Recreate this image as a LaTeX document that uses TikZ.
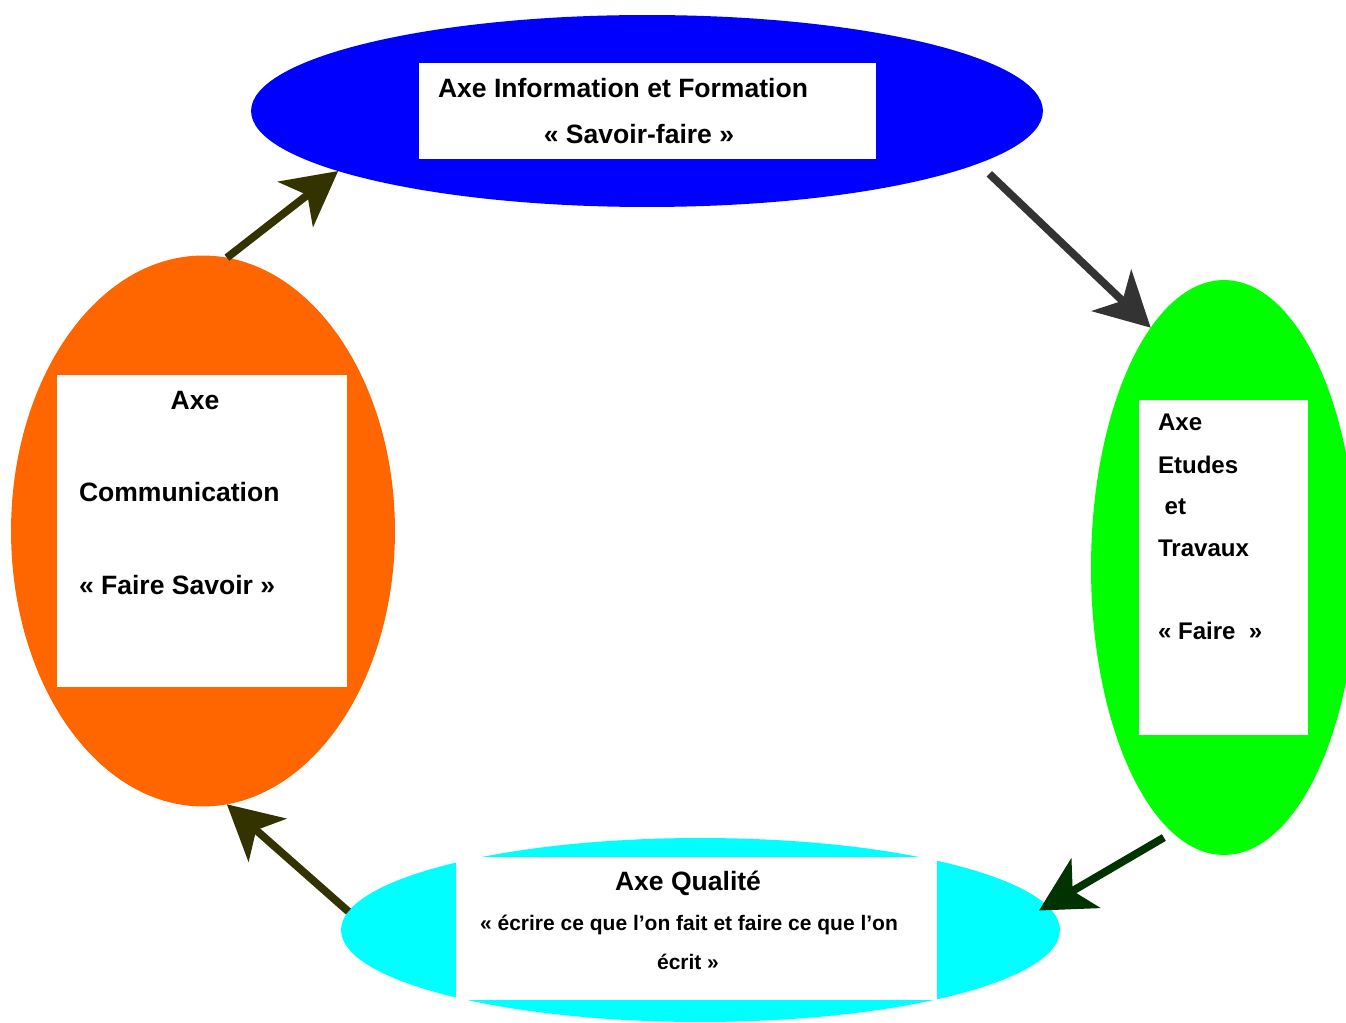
\documentclass[tikz,border=0pt]{standalone}
\usepackage{fontspec}
\setmainfont{Liberation Sans}
\usetikzlibrary{shapes.geometric,arrows.meta}
\definecolor{cblue}{HTML}{0000FF}
\definecolor{cgreen}{HTML}{00FF00}
\definecolor{corange}{HTML}{FF6600}
\definecolor{ccyan}{HTML}{00FFFF}
\definecolor{olivearrow}{HTML}{333300}
\definecolor{grayarrow}{HTML}{333333}
\definecolor{greenarrow}{HTML}{003300}
\tikzset{
  axe/.style={ellipse, draw=none, inner sep=0pt, outer sep=0pt},
  whitebox/.style={rectangle, fill=white, draw=none, inner sep=0pt, outer sep=0pt},
  lbl/.style={inner sep=0pt, outer sep=0pt, anchor=base west, font=\fontsize{15.1}{18}\selectfont\bfseries},
  lblc/.style={lbl, anchor=base},
  lblg/.style={lbl, font=\fontsize{13.7}{16}\selectfont\bfseries},
  lbls/.style={lbl, anchor=base, font=\fontsize{11.95}{14}\selectfont\bfseries},
  flow/.style={line width=0.155cm, -{Stealth[length=1.08cm,width=1.14cm,inset=0.3cm]}},
}
\begin{document}
\begin{tikzpicture}[x=0.02cm, y=-0.02cm]
\useasboundingbox (0,0) rectangle (1346,1023);
% ellipses
\node[axe, fill=cblue, minimum width=15.84cm, minimum height=3.84cm] (blue) at (647,111) {};
\node[axe, fill=cgreen, minimum width=5.32cm, minimum height=11.5cm] (green) at (1224,567.5) {};
\node[axe, fill=corange, minimum width=7.68cm, minimum height=11.02cm] (orange) at (203,531) {};
\node[axe, fill=ccyan, minimum width=14.38cm, minimum height=3.68cm] (cyan) at (700.5,930) {};
% white boxes
\node[whitebox, minimum width=9.14cm, minimum height=1.92cm] (bluebox) at (647.5,111) {};
\node[whitebox, minimum width=5.8cm, minimum height=6.24cm] (orangebox) at (202,531) {};
\node[whitebox, minimum width=3.38cm, minimum height=6.7cm] (greenbox) at (1223.5,567.5) {};
\node[whitebox, minimum width=9.62cm, minimum height=2.86cm] (cyanbox) at (696.5,928.5) {};
% texts: information
\node[lbl] (t1) at (438,97.7) {Axe Information et Formation};
\node[lblc] (t2) at (639,143.3) {« Savoir-faire »};
% communication
\node[lblc] (t3) at (195,410) {Axe};
\node[lbl] (t4) at (79,501.7) {Communication};
\node[lbl] (t5) at (79,594.3) {« Faire Savoir »};
% etudes
\node[lblg] (t6) at (1158,430.5) {Axe};
\node[lblg] (t7) at (1158,473.5) {Etudes};
\node[lblg] (t8) at (1158,514.5) {\ et};
\node[lblg] (t9) at (1158,556.5) {Travaux};
\node[lblg] (t10) at (1158,639.5) {« Faire\ \ »};
% qualite
\node[lblc] (t11) at (688,890.5) {Axe Qualité};
\node[lbls] (t12) at (689,930) {« écrire ce que l’on fait et faire ce que l’on};
\node[lbls] (t13) at (688,969) {écrit »};
% arrows
\draw[flow, olivearrow] (orange.85.2) -- (blue.191.4);
\draw[flow, grayarrow, shorten <=0.3cm] (blue.351.8) -- (green.107);
\draw[flow, greenarrow, shorten <=0.2cm, shorten >=-0.19cm] (green.259.8) -- (cyan.4.4);
\draw[flow, olivearrow] (cyan.177.3) -- (orange.275.3);
\end{tikzpicture}
\end{document}
